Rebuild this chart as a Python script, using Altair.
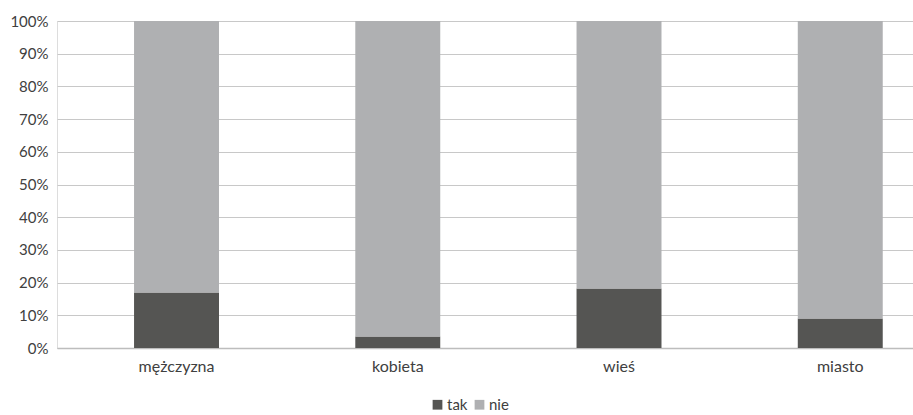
import altair as alt
import pandas as pd

categories = ["mężczyzna", "kobieta", "wieś", "miasto"]
tak_values = [17.0, 3.5, 18.2, 9.0]
nie_values = [83.0, 96.5, 81.8, 91.0]
series = ["tak", "nie"]
colors = ["#555553", "#AFB0B2"]
y_ticks = [0, 0.1, 0.2, 0.3, 0.4, 0.5, 0.6, 0.7, 0.8, 0.9, 1.0]

rows = []
for c, t, n in zip(categories, tak_values, nie_values):
    rows.append({"kategoria": c, "seria": "tak", "wartosc": t, "kolejnosc": 0})
    rows.append({"kategoria": c, "seria": "nie", "wartosc": n, "kolejnosc": 1})
df = pd.DataFrame(rows)

font = "Lato"

chart = alt.Chart(df).mark_bar().encode(
    x=alt.X(
        "kategoria:N",
        sort=categories,
        title=None,
        scale=alt.Scale(paddingInner=0.616, paddingOuter=0.2425, align=0.718),
        axis=alt.Axis(
            labelAngle=0, labelFontSize=16, labelColor="#404040", labelFont=font,
            labelPadding=10, ticks=False, domainColor="#BDBDBD", domainWidth=1.5,
            grid=False,
        ),
    ),
    y=alt.Y(
        "wartosc:Q",
        stack="normalize",
        title=None,
        scale=alt.Scale(domain=[0, 1], nice=False),
        axis=alt.Axis(
            values=y_ticks, format=".0%", labelFontSize=15, labelColor="#404040",
            labelFont=font, labelPadding=9, ticks=False, domain=False,
            gridColor="#C8C8C8", gridWidth=1,
        ),
    ),
    color=alt.Color(
        "seria:N",
        scale=alt.Scale(domain=series, range=colors),
        legend=alt.Legend(
            title=None, orient="none", direction="horizontal", legendX=373, legendY=376,
            symbolType="square", symbolSize=95, symbolStrokeWidth=0,
            labelFontSize=15, labelFont=font, labelColor="#404040", columnPadding=4,
            labelOffset=2,
        ),
    ),
    order=alt.Order("kolejnosc:Q", sort="ascending"),
).properties(
    width=856,
    height=327,
    autosize=alt.AutoSizeParams(type="none"),
    padding={"left": 57, "top": 21, "right": 0, "bottom": 67},
).configure_view(stroke=None).configure(background="white")

chart.save("out.html", embed_options={"renderer": "svg", "actions": False})
